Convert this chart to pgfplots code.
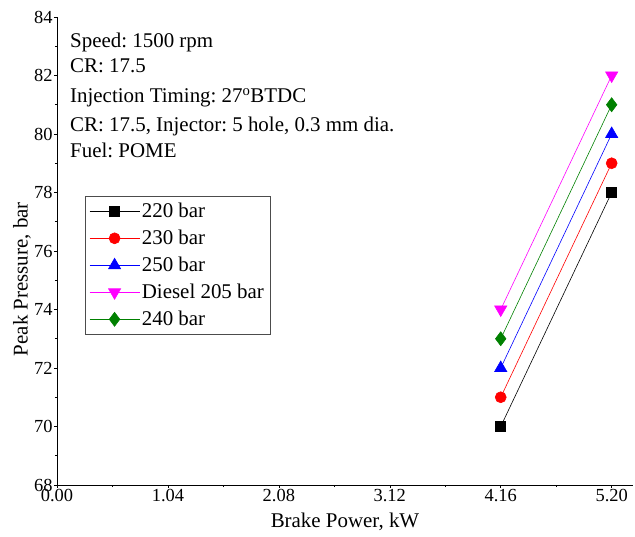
\documentclass[border=0pt]{standalone}
\usepackage{fontspec}
\setmainfont{Liberation Serif}
\usepackage{pgfplots}
\pgfplotsset{compat=1.18}
\definecolor{dgreen}{RGB}{0,128,0}
\definecolor{mag}{RGB}{255,0,255}
\frenchspacing
\begin{document}
\begin{tikzpicture}
\begin{axis}[
  scale only axis,
  width=576bp, height=468bp,
  xmin=0, xmax=5.40, ymin=68, ymax=84,
  axis x line*=bottom, axis y line*=left,
  axis line style={line width=1pt, -},
  xtick={0,1.04,2.08,3.12,4.16,5.20},
  xticklabels={0.00,1.04,2.08,3.12,4.16,5.20},
  ytick={68,70,72,74,76,78,80,82,84},
  minor x tick num=1, minor y tick num=1,
  tick align=outside,
  major tick length=3bp, minor tick length=2bp,
  tick style={black, line width=0.6pt},
  /pgf/number format/assume math mode=true,
  ticklabel style={font=\fontsize{18.5}{19}\selectfont},
  xticklabel style={yshift=2bp},
  yticklabel style={xshift=2bp},
  label style={font=\fontsize{21}{22}\selectfont},
  xlabel={Brake Power, kW},
  ylabel={Peak Pressure, bar},
  xlabel style={at={(axis description cs:0.5,0)}, anchor=center, yshift=-37bp},
  ylabel style={at={(axis description cs:0,0.44)}, anchor=center, rotate=0, yshift=35bp},
  clip=false,
  legend cell align=left,
  legend style={at={(0.0486,0.6175)}, anchor=north west, draw=black!70, line width=0.6pt,
    font=\fontsize{21}{22}\selectfont, row sep=7bp, inner xsep=4bp, inner ysep=5bp,
    legend image code/.code={\draw[mark repeat=2,mark phase=2] plot coordinates {(0bp,0bp)(25bp,0bp)(50bp,0bp)};}},
  every axis plot/.append style={line width=0.6pt},
]
\addplot[black, mark=square*, mark size=5bp, mark options={solid}] coordinates {(4.16,70) (5.20,78)};
\addlegendentry{220 bar}
\addplot[red, mark=*, mark size=5.5bp] coordinates {(4.16,71) (5.20,79)};
\addlegendentry{230 bar}
\addplot[blue, mark=triangle*, mark size=7bp] coordinates {(4.16,72) (5.20,80)};
\addlegendentry{250 bar}
\addplot[mag, mark=triangle*, mark size=7bp, mark options={rotate=180}] coordinates {(4.16,74) (5.20,82)};
\addlegendentry{Diesel 205 bar}
\addplot[dgreen, mark=diamond*, mark size=7bp] coordinates {(4.16,73) (5.20,81)};
\addlegendentry{240 bar}
\node[anchor=base west, inner sep=0, font=\fontsize{21}{22}\selectfont] at (axis cs:0.122,82.97) {Speed: 1500 rpm};
\node[anchor=base west, inner sep=0, font=\fontsize{21}{22}\selectfont] at (axis cs:0.122,82.09) {CR: 17.5};
\node[anchor=base west, inner sep=0, font=\fontsize{21}{22}\selectfont] at (axis cs:0.122,81.06) {Injection Timing: 27\textsuperscript{o}BTDC};
\node[anchor=base west, inner sep=0, font=\fontsize{21}{22}\selectfont] at (axis cs:0.122,80.10) {CR: 17.5, Injector: 5 hole, 0.3 mm dia.};
\node[anchor=base west, inner sep=0, font=\fontsize{21}{22}\selectfont] at (axis cs:0.122,79.21) {Fuel: POME};
\end{axis}
\pgfresetboundingbox
\path ([shift={(-57bp,-52bp)}]current axis.south west) rectangle ([shift={(2bp,17bp)}]current axis.north east);
\end{tikzpicture}
\end{document}
